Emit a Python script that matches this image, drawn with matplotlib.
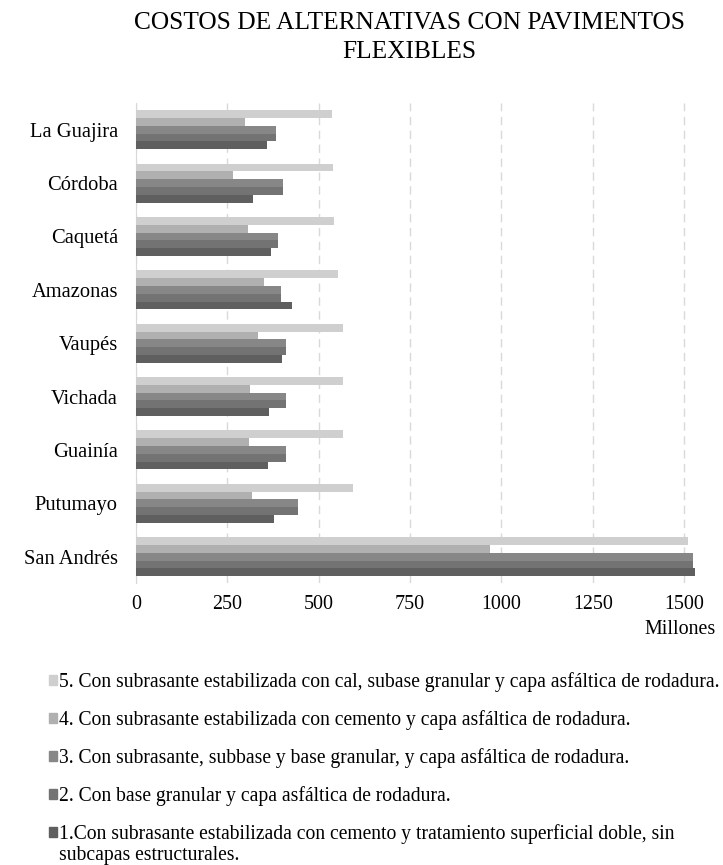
import numpy as np
import matplotlib.pyplot as plt
from matplotlib.patches import Patch

plt.rcParams['font.family'] = ['Liberation Serif', 'DejaVu Serif']

departamentos = ['La Guajira', 'Córdoba', 'Caquetá', 'Amazonas', 'Vaupés',
                 'Vichada', 'Guainía', 'Putumayo', 'San Andrés']

# costos en millones, por alternativa
alt1 = [358, 319, 370, 428, 400, 365, 362, 377, 1531]
alt2 = [382, 401, 389, 396, 410, 410, 410, 442, 1524]
alt3 = [382, 401, 389, 396, 410, 410, 410, 442, 1524]
alt4 = [298, 265, 307, 350, 335, 312, 310, 318, 969]
alt5 = [537, 539, 542, 553, 567, 567, 567, 595, 1511]

etiquetas = [
    '1.Con subrasante estabilizada con cemento y tratamiento superficial doble, sin',
    '2. Con base granular y capa asfáltica de rodadura.',
    '3. Con subrasante, subbase y base granular, y capa asfáltica de rodadura.',
    '4. Con subrasante estabilizada con cemento y capa asfáltica de rodadura.',
    '5. Con subrasante estabilizada con cal, subase granular y capa asfáltica de rodadura.',
]
etiqueta1_cont = 'subcapas estructurales.'
colores = ['#5f5f5f', '#737373', '#878787', '#b0b0b0', '#cfcfcf']

W, H = 723, 865
fig = plt.figure(figsize=(W / 100, H / 100), dpi=100)
ax = fig.add_axes([136 / W, 1 - 583.4 / H, 570 / W, 480.4 / H])

y = np.arange(len(departamentos))
h = 0.146
series = [alt1, alt2, alt3, alt4, alt5]
# alt1 abajo (mas oscuro), alt5 arriba
for k, vals in enumerate(series):
    off = (2 - k) * h
    ax.barh(y + off, vals, height=h, color=colores[k], zorder=3)

ax.set_ylim(len(departamentos) - 0.5, -0.5)
ax.set_xlim(0, 1560)
ax.set_xticks([0, 250, 500, 750, 1000, 1250, 1500])
ax.set_yticks(y)
ax.set_yticklabels(departamentos)
ax.tick_params(axis='both', length=0)
ax.tick_params(axis='x', pad=8, labelsize=14.4)
ax.tick_params(axis='y', pad=13, labelsize=14.8)

ax.grid(axis='x', color='#d9d9d9', linestyle=(0, (6, 4)), linewidth=1, zorder=0)
for s in ['top', 'right', 'bottom']:
    ax.spines[s].set_visible(False)
ax.spines['left'].set_color('#d9d9d9')

ax.set_xlabel('Millones', fontsize=14.4, ha='right', va='center')
ax.xaxis.set_label_coords(716 / W, 1 - 630 / H, transform=fig.transFigure)

# titulo en dos lineas
fig.text(409 / W, 1 - 29 / H, 'COSTOS DE ALTERNATIVAS CON PAVIMENTOS',
         ha='center', va='baseline', fontsize=18.3)
fig.text(409 / W, 1 - 58 / H, 'FLEXIBLES',
         ha='center', va='baseline', fontsize=18.3)

handles = [Patch(color=colores[k]) for k in range(5)][::-1]
leg = fig.legend(handles, etiquetas[::-1], loc='upper left',
                 bbox_to_anchor=(41 / W, 1 - 664 / H), frameon=False,
                 fontsize=14.1, handlelength=0.42, handleheight=0.42,
                 handletextpad=0.08, labelspacing=0.93, borderaxespad=0)

# segunda linea de la alternativa 1
fig.canvas.draw()
bb = leg.get_texts()[-1].get_window_extent()
fig.text(bb.x0 / W, (bb.y0 - 21) / H, etiqueta1_cont, ha='left', va='bottom',
         fontsize=14.1)

plt.savefig('out.png', dpi=100)
